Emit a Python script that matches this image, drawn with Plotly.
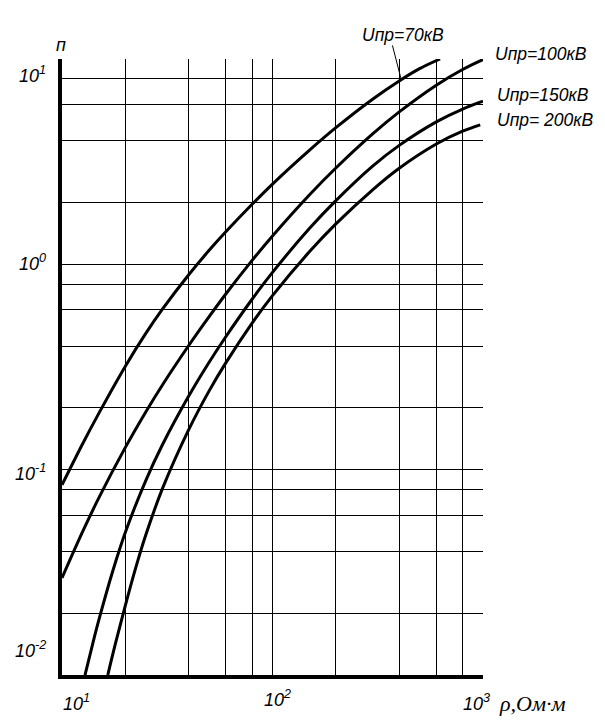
import plotly.graph_objects as go
import math

# --- data (rho in Ohm*m, n) ---
rho_70 = [10, 12.5, 15, 20, 25, 30, 40, 50, 60, 80, 100, 150, 200, 300, 400, 500, 625]
n_70 = [0.0843, 0.133, 0.189, 0.319, 0.461, 0.605, 0.89, 1.17, 1.44, 1.96, 2.46, 3.60, 4.63, 6.39, 7.82, 8.97, 10.0]

rho_100 = [10, 12.5, 15, 20, 25, 30, 40, 50, 60, 80, 100, 150, 200, 300, 400, 600, 800, 1000]
n_100 = [0.0297, 0.0496, 0.0733, 0.1284, 0.191, 0.2586, 0.4025, 0.556, 0.717, 1.045, 1.375, 2.183, 2.944, 4.328, 5.527, 7.46, 8.89, 9.94]

rho_150 = [12.86, 14, 15, 17.5, 20, 25, 30, 40, 50, 60, 80, 100, 150, 200, 300, 400, 600, 800, 1000]
n_150 = [0.01, 0.01423, 0.01869, 0.03254, 0.04955, 0.0885, 0.1322, 0.2283, 0.3336, 0.444, 0.676, 0.9135, 1.498, 2.043, 3.017, 3.796, 4.94, 5.706, 6.225]

rho_200 = [16.5, 18, 20, 22.5, 25, 30, 40, 50, 60, 80, 100, 150, 200, 300, 400, 600, 800, 970]
n_200 = [0.01, 0.0144, 0.02184, 0.03379, 0.04806, 0.0808, 0.1566, 0.242, 0.3311, 0.517, 0.7037, 1.154, 1.574, 2.314, 2.938, 3.855, 4.452, 4.78]

series_labels = ["Uпр=70кВ", "Uпр=100кВ", "Uпр=150кВ", "Uпр= 200кВ"]

x_grid = [20, 40, 60, 80, 100, 200, 400, 600, 800, 1000]
y_grid = [0.02, 0.04, 0.06, 0.08, 0.1, 0.2, 0.4, 0.6, 0.8, 1, 2, 4, 6, 8, 10]

y_tick_labels = ["10<sup>1</sup>", "10<sup>0</sup>", "10<sup>-1</sup>", "10<sup>-2</sup>"]
x_tick_labels = ["10<sup>1</sup>", "10<sup>2</sup>", "10<sup>3</sup>"]
x_title = "ρ,Ом·м"
y_title = "п"

# leader point on the 70 kV curve
leader_rho, leader_n = 408, 8.0

fig = go.Figure()
for xs, ys in [(rho_70, n_70), (rho_100, n_100), (rho_150, n_150), (rho_200, n_200)]:
    fig.add_trace(go.Scatter(x=xs, y=ys, mode="lines",
                             line=dict(color="black", width=3, shape="spline", smoothing=1.0),
                             showlegend=False, hoverinfo="skip"))

sans = "Liberation Sans, Arial, sans-serif"
serif = "Liberation Serif, Times New Roman, serif"
tick_font = dict(family=sans, size=18, color="black")
lab_font = dict(family=sans, size=17.5, color="black")


def it(s):
    return "<i>" + s + "</i>"


ann = []
# y tick labels
for txt, yp in zip(y_tick_labels, [0.9745, 0.669, 0.328, 0.0406]):
    ann.append(dict(text=it(txt), xref="paper", yref="paper", x=-0.034, y=yp,
                    xanchor="right", yanchor="middle", showarrow=False, font=tick_font))
# x tick labels
for txt, xp, yp in zip(x_tick_labels, [0.0333, 0.511, 0.9857], [-0.044, -0.038, -0.044]):
    ann.append(dict(text=it(txt), xref="paper", yref="paper", x=xp, y=yp,
                    xanchor="center", yanchor="middle", showarrow=False, font=tick_font))
ann.append(dict(text=it(x_title), xref="paper", yref="paper", x=1.033, y=-0.046,
                xanchor="left", yanchor="middle", showarrow=False,
                font=dict(family=serif, size=22, color="black")))
ann.append(dict(text=it(y_title), xref="paper", yref="paper", x=-0.002, y=1.023,
                xanchor="center", yanchor="middle", showarrow=False, font=tick_font))
# curve labels
pos = [(0.811, 1.0395, "center"), (1.0238, 1.0086, "left"), (1.0285, 0.942, "left"), (1.0285, 0.9014, "left")]
for txt, (xp, yp, xa) in zip(series_labels, pos):
    ann.append(dict(text=it(txt), xref="paper", yref="paper", x=xp, y=yp,
                    xanchor=xa, yanchor="middle", showarrow=False, font=lab_font))
# leader line for 70 kV label
ann.append(dict(text="", x=math.log10(leader_rho), y=math.log10(leader_n), xref="x", yref="y",
                showarrow=True, arrowhead=0, arrowwidth=1, arrowcolor="black",
                ax=-9, ay=-35, axref="pixel", ayref="pixel", standoff=0))

# the page adds an 8px body margin, so the figure is offset by that amount
fig.update_layout(
    width=605, height=725, autosize=False,
    margin=dict(l=54, r=130, t=51, b=58, pad=0),
    paper_bgcolor="white", plot_bgcolor="white",
    annotations=ann,
    xaxis=dict(type="log", range=[1, 3], tickvals=x_grid, showticklabels=False, ticks="",
               showgrid=True, gridcolor="black", gridwidth=1.2, zeroline=False,
               showline=True, linecolor="black", linewidth=4),
    yaxis=dict(type="log", range=[-2, 1], tickvals=y_grid, showticklabels=False, ticks="",
               showgrid=True, gridcolor="black", gridwidth=1.2, zeroline=False,
               showline=True, linecolor="black", linewidth=4),
)

fig.write_html("out.html")
